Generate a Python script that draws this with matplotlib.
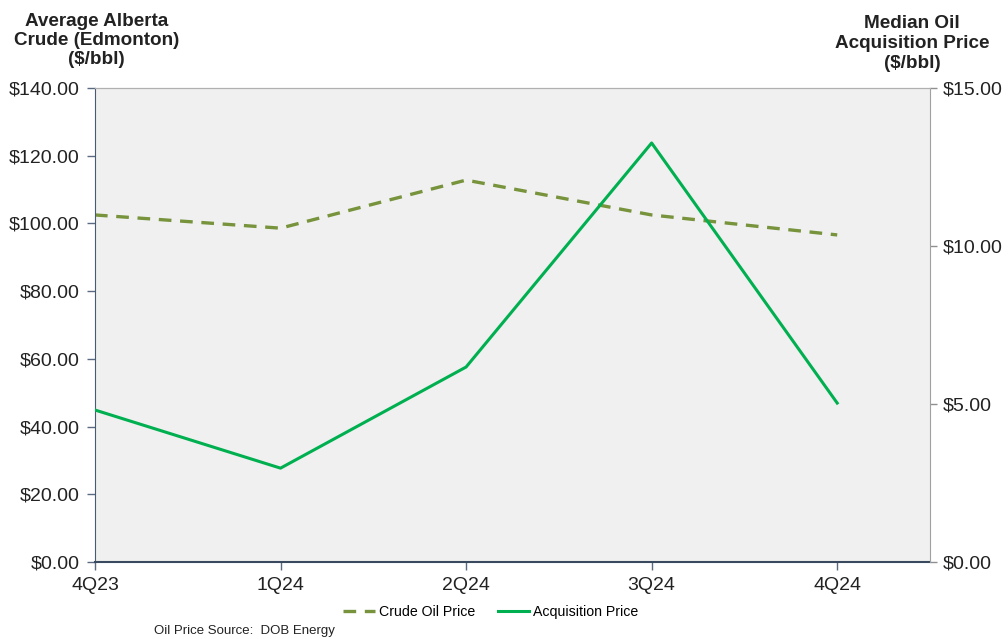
import matplotlib
matplotlib.use("Agg")
import matplotlib.pyplot as plt
from matplotlib.ticker import FuncFormatter, MultipleLocator

plt.rcParams['font.family'] = ['Liberation Sans', 'DejaVu Sans']

quarters = ["4Q23", "1Q24", "2Q24", "3Q24", "4Q24"]
crude_price = [102.5, 98.6, 112.8, 102.5, 96.6]
acquisition_price = [4.81, 2.97, 6.17, 13.26, 5.03]

fig = plt.figure(figsize=(10.08, 6.39), dpi=100)
ax = fig.add_axes([0.0942, 0.1205, 0.8284, 0.7418])
ax.set_facecolor("#f0f0f0")
ax2 = ax.twinx()

x = list(range(len(quarters)))
l1, = ax.plot(x, crude_price, color="#77933c", lw=2.4, dashes=(3.8, 2.6),
              label="Crude Oil Price")
l2, = ax2.plot(x, acquisition_price, color="#00b050", lw=2.2,
               label="Acquisition Price")

ax.set_xlim(0, 4.5)
ax.set_ylim(0, 140)
ax2.set_ylim(0, 15)
ax.set_xticks(x)
ax.set_xticklabels(quarters)
ax.yaxis.set_major_locator(MultipleLocator(20))
ax2.yaxis.set_major_locator(MultipleLocator(5))
ax.yaxis.set_major_formatter(FuncFormatter(lambda v, p: f"${v:,.2f}"))
ax2.yaxis.set_major_formatter(FuncFormatter(lambda v, p: f"${v:,.2f}"))

for a in (ax, ax2):
    a.tick_params(labelsize=14, colors="#8f8f8f", labelcolor="#222222",
                  length=6, width=1)
ax.tick_params(axis="y", colors="#5a6a80", labelcolor="#222222", pad=5)
ax.tick_params(axis="x", colors="#5a6a80", labelcolor="#222222", pad=5)
ax2.tick_params(axis="y", length=5, pad=4)

ax.spines["left"].set_color("#4a5a70")
ax.spines["bottom"].set_color("#3a4a5e")
ax.spines["bottom"].set_linewidth(1.5)
ax.spines["top"].set_color("#b0b0b0")
ax.spines["right"].set_visible(False)
ax2.spines["right"].set_color("#a0a0a0")
ax2.spines["top"].set_color("#b0b0b0")
ax2.spines["left"].set_visible(False)
ax2.spines["bottom"].set_visible(False)

fig.text(0.096, 0.937, "Average Alberta\nCrude (Edmonton)\n($/bbl)", ha="center",
         va="center", fontsize=13.6, fontweight="bold", color="#222222",
         linespacing=1.17)
fig.text(0.905, 0.932, "Median Oil\nAcquisition Price\n($/bbl)", ha="center",
         va="center", fontsize=13.6, fontweight="bold", color="#222222",
         linespacing=1.2)

fig.legend(handles=[l1, l2], loc="center", bbox_to_anchor=(0.487, 0.042),
           ncol=2, frameon=False, fontsize=10.2, handlelength=2.2,
           columnspacing=1.6, handletextpad=0.3)
fig.text(0.153, 0.008, "Oil Price Source:  DOB Energy", fontsize=9.5,
         color="#222222")

fig.savefig("out.png", dpi=100)
